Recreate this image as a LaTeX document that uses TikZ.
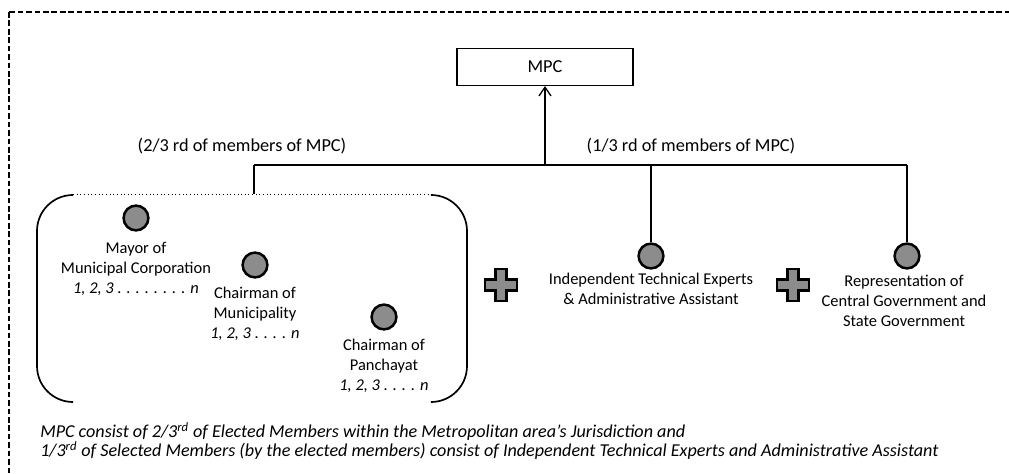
\documentclass[tikz,border=0pt]{standalone}
\usepackage{fontspec}
\setmainfont{Carlito}
\usetikzlibrary{arrows.meta}

\tikzset{
    member/.style={circle, draw=black, fill=gray!90, line width=1.8pt, minimum size=0.62cm, inner sep=0pt},
    caption/.style={align=center, inner sep=0pt, font=\fontsize{11.7}{14.3}\selectfont},
    link/.style={line width=0.9pt},
}

\begin{document}
\begin{tikzpicture}[x=0.025cm, y=-0.025cm]
    % Frame of the whole figure
    \useasboundingbox (0,0) rectangle (1009,474);
    \clip (0,0) rectangle (1009,474);
    \draw[line width=0.9pt, dash pattern=on 4pt off 2pt] (9,12) rectangle (1030,500);

    % Top box
    \node[draw, line width=0.9pt, minimum width=4.4cm, minimum height=0.92cm, font=\fontsize{13}{15}\selectfont] (mpc) at (545,67) {MPC};

    % Branch points
    \coordinate (jL) at (254,165);
    \coordinate (jM) at (545,165);
    \coordinate (jR) at (907,165);
    \coordinate (brTop) at (254,194);

    \node[font=\fontsize{13}{15}\selectfont] (twothird) at (242,146) {(2/3 rd of members of MPC)};
    \node[font=\fontsize{13}{15}\selectfont] (onethird) at (691,146) {(1/3 rd of members of MPC)};

    % Members
    \node[member] (mayor) at (136,218) {};
    \node[member] (chmun) at (255,265) {};
    \node[member] (chpan) at (384,317) {};
    \node[member] (indep) at (651,256) {};
    \node[member] (repr) at (907,256) {};

    \node[caption, anchor=north] (mayortxt) at (136,242) {Mayor of\\Municipal Corporation\\\itshape 1, 2, 3 . . . . . . . . n};
    \node[caption, anchor=north] (chmuntxt) at (255,287) {Chairman of\\Municipality\\\itshape 1, 2, 3 . . . . n};
    \node[caption, anchor=north] (chpantxt) at (384,339) {Chairman of\\Panchayat\\\itshape 1, 2, 3 . . . . n};
    \node[caption, anchor=north] (indeptxt) at (651,273) {Independent Technical Experts\\\& Administrative Assistant};
    \node[caption, anchor=north] (reprtxt) at (904,275) {Representation of\\Central Government and\\State Government};

    % Connectors
    \draw[link] (jL) -- (jR);
    \draw[link, -{Straight Barb[length=2.2mm, width=3mm]}] (jM) -- (mpc);
    \draw[link] (jL) -- (brTop);
    \draw[link] (indep |- jL) -- (indep);
    \draw[link] (repr |- jL) -- (repr);

    % Bracket round the elected members
    \draw[line width=0.6pt, dotted] (73,194) -- (430,194);
    \draw[line width=1.2pt, rounded corners=0.9cm] (73,195) -- (37,195) -- (37,402) -- (72,402);
    \draw[line width=1.2pt, rounded corners=0.9cm] (431,195) -- (467,195) -- (467,402) -- (432,402);

    % Plus signs
    \foreach \px in {501,793} {
        \draw[line width=1.9pt, fill=gray!90] (\px,285) ++(-5.5,-16) -- ++(11,0) -- ++(0,10.5) -- ++(10.5,0) -- ++(0,11)
            -- ++(-10.5,0) -- ++(0,10.5) -- ++(-11,0) -- ++(0,-10.5) -- ++(-10.5,0) -- ++(0,-11) -- ++(10.5,0) -- cycle;
    }

    % Note at the bottom
    \node[anchor=north west, align=left, inner sep=0pt, font=\fontsize{12.9}{13.8}\selectfont\itshape] (note) at (40,422)
        {MPC consist of 2/3\textsuperscript{rd} of Elected Members within the Metropolitan area’s Jurisdiction and\\
         1/3\textsuperscript{rd} of Selected Members (by the elected members) consist of Independent Technical Experts and Administrative Assistant};
\end{tikzpicture}
\end{document}
